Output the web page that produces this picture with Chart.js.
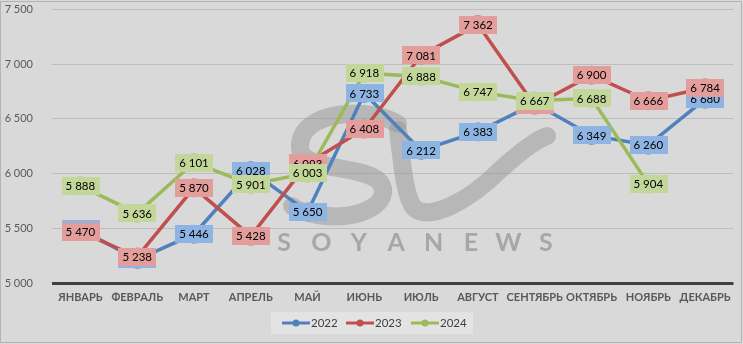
<!DOCTYPE html>
<html>
<head>
<meta charset="utf-8">
<script src="https://cdn.jsdelivr.net/npm/chart.js@4.4.1/dist/chart.umd.min.js"></script>
<style>
  html, body { margin: 0; padding: 0; background: #d9d9d9; }
  #wrap { width: 743px; height: 344px; position: relative; }
</style>
</head>
<body>
<div id="wrap"><canvas id="c" width="743" height="344"></canvas></div>
<script>
// Months shown on the category axis
const months = ['ЯНВАРЬ', 'ФЕВРАЛЬ', 'МАРТ', 'АПРЕЛЬ', 'МАЙ', 'ИЮНЬ', 'ИЮЛЬ', 'АВГУСТ', 'СЕНТЯБРЬ', 'ОКТЯБРЬ', 'НОЯБРЬ', 'ДЕКАБРЬ'];

// Monthly values per year
const values2022 = [5490, 5215, 5446, 6028, 5650, 6733, 6212, 6383, 6640, 6349, 6260, 6680];
const values2023 = [5470, 5238, 5870, 5428, 6093, 6408, 7081, 7362, 6625, 6900, 6666, 6784];
const values2024 = [5888, 5636, 6101, 5901, 6003, 6918, 6888, 6747, 6667, 6688, 5904, null];

// Value axis
const yMin = 5000;
const yMax = 7500;
const yStep = 500;

const seriesNames = ['2022', '2023', '2024'];

const styles = [
  { line: '#4f81bd', point: '#6c9bd6', box: '#8db4e2' },
  { line: '#c0504d', point: '#d67a77', box: '#e39d9b' },
  { line: '#9bbb59', point: '#b3cd86', box: '#c4d79b' }
];

const fmt = n => String(n).replace(/\B(?=(\d{3})+(?!\d))/g, ' ');

const FONT = 'Lato, "Liberation Sans", sans-serif';

// Watermark behind the series
const watermark = {
  id: 'watermark',
  beforeDatasetsDraw(chart) {
    const ctx = chart.ctx;
    ctx.save();
    ctx.strokeStyle = 'rgba(150,150,150,0.5)';
    ctx.lineWidth = 18;
    ctx.lineCap = 'round';
    ctx.lineJoin = 'round';
    // S
    ctx.beginPath();
    ctx.moveTo(398, 124);
    ctx.bezierCurveTo(370, 106, 298, 110, 300, 148);
    ctx.bezierCurveTo(302, 172, 362, 164, 380, 182);
    ctx.bezierCurveTo(394, 202, 360, 222, 318, 215);
    ctx.bezierCurveTo(305, 213, 296, 210, 292, 206);
    ctx.stroke();
    // v
    ctx.beginPath();
    ctx.moveTo(398, 130);
    ctx.bezierCurveTo(402, 160, 404, 195, 414, 208);
    ctx.bezierCurveTo(430, 222, 470, 200, 500, 170);
    ctx.bezierCurveTo(520, 152, 535, 140, 547, 136);
    ctx.stroke();
    // spaced wordmark
    ctx.fillStyle = 'rgba(150,150,150,0.75)';
    ctx.font = 'bold 25px ' + FONT;
    ctx.textBaseline = 'alphabetic';
    ctx.textAlign = 'center';
    const letters = 'SOYANEWS'.split('');
    letters.forEach((l, i) => ctx.fillText(l, 284 + i * 37.4, 251));
    ctx.restore();
  }
};

// Value boxes on every point, drawn above all lines
const valueBoxes = {
  id: 'valueBoxes',
  afterDatasetsDraw(chart) {
    const ctx = chart.ctx;
    ctx.save();
    ctx.font = '11.5px ' + FONT;
    ctx.textAlign = 'center';
    ctx.textBaseline = 'middle';
    chart.data.datasets.forEach((ds, di) => {
      const meta = chart.getDatasetMeta(di);
      ds.data.forEach((v, i) => {
        if (v === null) return;
        const p = meta.data[i];
        const label = fmt(v);
        const w = ctx.measureText(label).width + 8;
        const h = 18;
        ctx.fillStyle = styles[di].box;
        ctx.fillRect(Math.round(p.x - w / 2), Math.round(p.y - h / 2), Math.round(w), h);
        ctx.fillStyle = '#000';
        ctx.fillText(label, p.x, p.y + 0.5);
      });
    });
    ctx.restore();
  }
};

// Legend box and outer frame
const legendAndFrame = {
  id: 'legendAndFrame',
  beforeDraw(chart) {
    const ctx = chart.ctx;
    ctx.save();
    ctx.fillStyle = '#d9d9d9';
    ctx.fillRect(0, 0, chart.width, chart.height);
    ctx.restore();
  },
  afterDraw(chart) {
    const ctx = chart.ctx;
    ctx.save();
    ctx.fillStyle = '#e3e3e3';
    ctx.fillRect(271, 312, 202, 22);
    ctx.font = '11.5px ' + FONT;
    ctx.textBaseline = 'middle';
    ctx.textAlign = 'left';
    const starts = [282, 346, 411];
    seriesNames.forEach((name, i) => {
      const x = starts[i];
      const y = 323;
      ctx.strokeStyle = styles[i].line;
      ctx.lineWidth = 3;
      ctx.beginPath();
      ctx.moveTo(x, y);
      ctx.lineTo(x + 28, y);
      ctx.stroke();
      ctx.fillStyle = styles[i].line;
      ctx.beginPath();
      ctx.arc(x + 14, y, 3.5, 0, Math.PI * 2);
      ctx.fill();
      ctx.fillStyle = '#404040';
      ctx.fillText(name, x + 29, y + 0.5);
    });
    ctx.strokeStyle = '#b4b4b4';
    ctx.lineWidth = 1;
    ctx.strokeRect(0.5, 1.5, 741, 341);
    ctx.restore();
  }
};

const seriesValues = [values2022, values2023, values2024];

new Chart(document.getElementById('c'), {
  type: 'line',
  data: {
    labels: months,
    datasets: seriesValues.map((vals, i) => ({
      label: seriesNames[i],
      data: vals,
      order: 2 - i,
      borderColor: styles[i].line,
      borderWidth: 3.5,
      pointRadius: 9.5,
      pointBackgroundColor: styles[i].point,
      pointBorderColor: styles[i].point,
      pointBorderWidth: 0,
      tension: 0,
      spanGaps: false
    }))
  },
  options: {
    responsive: false,
    animation: false,
    events: [],
    layout: { padding: { top: 8, right: 3, left: 0, bottom: 0 } },
    plugins: { legend: { display: false }, tooltip: { enabled: false } },
    scales: {
      x: {
        offset: true,
        grid: { display: false, drawTicks: false },
        border: { display: false },
        ticks: {
          color: '#595959',
          font: { family: FONT, size: 11, weight: 'bold' },
          padding: 8,
          maxRotation: 0,
          autoSkip: false
        },
        afterFit(scale) { scale.height = 61; }
      },
      y: {
        min: yMin,
        max: yMax,
        grid: {
          drawTicks: false,
          color: ctx => ctx.tick && ctx.tick.value === yMin ? '#404040' : '#bdbdbd',
          lineWidth: ctx => ctx.tick && ctx.tick.value === yMin ? 3 : 1
        },
        border: { display: false },
        ticks: {
          stepSize: yStep,
          color: '#595959',
          font: { family: FONT, size: 11 },
          padding: 19,
          callback: v => fmt(v)
        },
        afterFit(scale) {
          scale.width = 52;
          scale.paddingTop = 0;
          scale.paddingBottom = 0;
        }
      }
    }
  },
  plugins: [legendAndFrame, watermark, valueBoxes]
});
</script>
</body>
</html>
